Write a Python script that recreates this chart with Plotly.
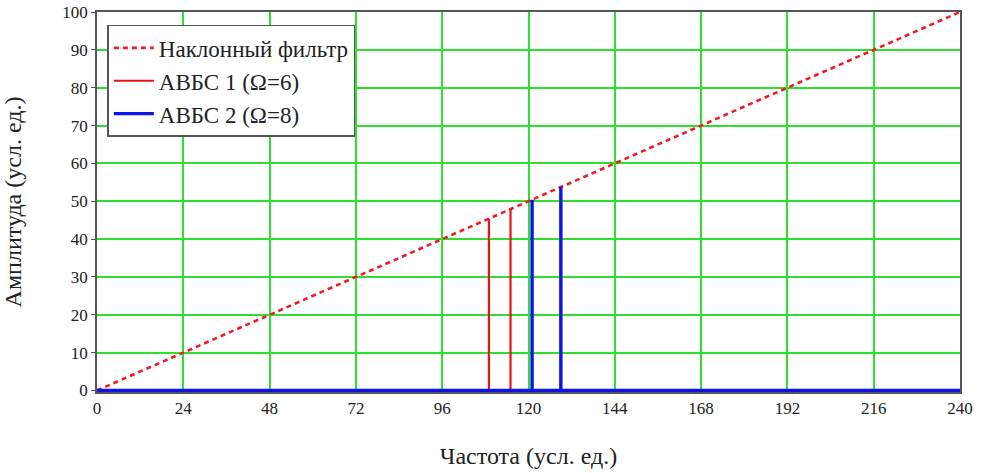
import plotly.graph_objects as go

# Data
filter_x = [0, 240]
filter_y = [0, 100]

abvs1_freq = [0, 109, 109, 109, 115, 115, 115, 240]
abvs1_amp = [0, 0, 45.4, 0, 0, 47.9, 0, 0]

abvs2_freq = [0, 121, 121, 121, 129, 129, 129, 240]
abvs2_amp = [0, 0, 50.4, 0, 0, 53.8, 0, 0]

x_ticks = [0, 24, 48, 72, 96, 120, 144, 168, 192, 216, 240]
y_ticks = [0, 10, 20, 30, 40, 50, 60, 70, 80, 90, 100]

SERIF = "Liberation Serif"
GRID = "#2ee02e"
FRAME = "#555555"

fig = go.Figure()
fig.add_trace(go.Scatter(x=filter_x, y=filter_y, mode="lines",
                         name="Наклонный фильтр", legendgroup="a",
                         line=dict(color="#ee1c24", width=2.6, dash="5px,4px")))
fig.add_trace(go.Scatter(x=abvs1_freq, y=abvs1_amp, mode="lines",
                         name="АВБС 1 (Ω=6)", legendgroup="b",
                         line=dict(color="#ee1111", width=2.2)))
fig.add_trace(go.Scatter(x=abvs2_freq, y=abvs2_amp, mode="lines",
                         name="АВБС 2 (Ω=8)", legendgroup="c",
                         line=dict(color="#0a14e6", width=3.4)))

fig.update_layout(
    width=982, height=473,
    margin=dict(l=97, r=22, t=12, b=81),
    paper_bgcolor="white", plot_bgcolor="white",
    font=dict(family=SERIF, color="#222222", size=17),
    showlegend=True,
    legend=dict(x=0.012, y=0.966, xanchor="left", yanchor="top",
                bgcolor="white", bordercolor=FRAME, borderwidth=1.5,
                font=dict(family=SERIF, size=23, color="#222222"),
                tracegroupgap=0, itemwidth=40),
)
fig.update_xaxes(range=[0, 240], tickvals=x_ticks, ticktext=[str(v) for v in x_ticks],
                 automargin=False,
                 showgrid=True, gridcolor=GRID, gridwidth=1.5,
                 showline=True, linecolor=FRAME, linewidth=1.5, mirror=True,
                 zeroline=False, ticks="", 
                 tickfont=dict(family=SERIF, size=17),
                 title=dict(text="Частота (усл. ед.)", font=dict(family=SERIF, size=24), standoff=30))
fig.update_yaxes(range=[-0.4, 100], tickvals=y_ticks, ticktext=[str(v) for v in y_ticks],
                 automargin=False,
                 showgrid=True, gridcolor=GRID, gridwidth=1.5,
                 showline=True, linecolor=FRAME, linewidth=1.5, mirror=True,
                 zeroline=False, ticks="outside", ticklen=4, tickcolor=FRAME,
                 tickfont=dict(family=SERIF, size=17),
                 title=dict(text="Амплитуда (усл. ед.)", font=dict(family=SERIF, size=24), standoff=34))

fig.write_html("out.html")
